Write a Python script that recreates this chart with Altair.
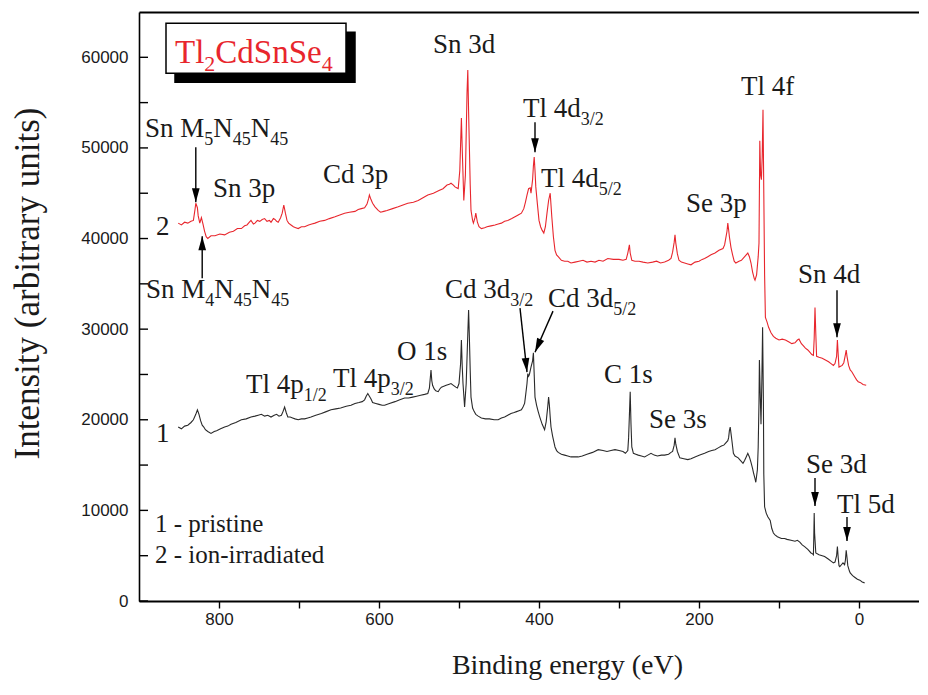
import math
import altair as alt
import pandas as pd

# ---------------- spectra (binding energy eV, intensity counts) ----------------
be_irr = [851, 847, 843, 839, 835, 832, 830, 829, 827, 826, 824, 822, 820, 818, 816, 814, 810, 805, 799, 793,
          787, 782, 777, 772, 768, 765, 762, 760, 757, 755, 752, 749, 746, 743, 740, 737, 735, 732, 730, 728,
          726, 723, 721, 719, 717, 715, 713, 710, 707, 704, 701, 697, 693, 688, 684, 680, 674, 668, 662, 655,
          649, 643, 637, 630, 626, 622, 618, 615, 613, 612, 610, 608, 605, 601, 598, 594, 590, 583, 576, 570,
          564, 557, 551, 545, 539, 532, 525, 520, 515, 512, 510, 507, 505, 503, 501, 499, 497, 496, 494, 492,
          490, 489, 488, 486, 485, 483, 482, 480, 479, 477, 475, 472, 468, 465, 460, 455, 451, 447, 443, 439,
          434, 430, 426, 422, 419, 417, 415, 413, 411, 410, 408, 407, 406, 405, 404, 402, 400, 398, 396, 394,
          392, 390, 388, 386, 385, 384, 382, 380, 378, 376, 372, 368, 364, 360, 355, 350, 345, 340, 335, 330,
          325, 320, 314, 307, 300, 295, 291, 289, 287, 286, 284, 280, 275, 270, 264, 258, 253, 248, 243, 238,
          235, 233, 231, 230, 229, 227, 225, 222, 218, 214, 210, 205, 200, 196, 193, 189, 185, 180, 175, 170,
          168, 167, 165, 164, 163, 162, 160, 158, 156, 154, 150, 147, 144, 141, 139, 137, 135, 133, 131, 130,
          128, 126, 125, 124, 123, 122, 121, 120, 119, 118, 117, 115, 113, 110, 107, 104, 100, 96, 92, 88,
          84, 80, 77, 75, 72, 70, 67, 64, 61, 59, 57, 56, 55, 54, 53, 50, 46, 42, 38, 35,
          32, 30, 28, 27, 26, 25, 23, 21, 19, 17, 16, 15, 13, 11, 9, 7, 5, 3, 1, -2,
          -5, -9]
int_irr = [41700, 41500, 41800, 41700, 41900, 42000, 43200, 43900, 43400, 42500, 41700, 42300, 41600, 40800, 40200, 40000, 40300, 40300, 40500, 40400,
           40700, 40800, 41100, 41100, 41400, 41500, 41800, 42000, 41600, 41700, 42000, 41900, 42100, 42200, 41900, 42000, 41800, 42200, 42100, 41900,
           41800, 42300, 42800, 43700, 42800, 42000, 41700, 41500, 41300, 41200, 41100, 41300, 41300, 41500, 41600, 41700, 41900, 42000, 42200, 42400,
           42600, 42800, 42900, 43000, 43200, 43300, 43400, 43800, 44400, 44800, 44300, 43900, 43500, 43100, 42900, 43000, 43100, 43300, 43500, 43700,
           43900, 44000, 44200, 44500, 44800, 45000, 45300, 45500, 45900, 46000, 46100, 45900, 45700, 45600, 45500, 47500, 53300, 50000, 44200, 47000,
           56000, 58600, 54000, 46000, 43100, 42000, 41700, 42300, 42800, 41800, 41300, 41100, 41200, 41300, 41400, 41500, 41600, 41700, 41900, 42000,
           42200, 42400, 42600, 42800, 43300, 44000, 44800, 45500, 45600, 45000, 46500, 48000, 49000, 47500, 45700, 43800, 42000, 41300, 40900, 40600,
           41300, 42800, 44200, 45000, 43700, 42400, 40200, 38700, 38200, 38000, 37600, 37500, 37500, 37300, 37400, 37500, 37600, 37400, 37500, 37400,
           37600, 37500, 37800, 37700, 37700, 37600, 37700, 38400, 39300, 38400, 37600, 37500, 37500, 37400, 37300, 37400, 37500, 37300, 37400, 37600,
           37800, 38500, 39600, 40400, 39500, 38300, 37600, 37400, 37300, 37200, 37100, 37400, 37500, 37700, 37800, 38000, 38200, 38400, 38700, 38900,
           39300, 39800, 40800, 41700, 41000, 40200, 39000, 38200, 37500, 37300, 37500, 37600, 37900, 38200, 38400, 38000, 37300, 36300, 35600, 35400,
           36000, 38000, 39500, 50800, 47000, 46500, 49000, 54200, 45000, 36000, 31300, 30800, 30200, 29600, 29200, 29000, 28800, 28900, 28800, 28600,
           28400, 28500, 28800, 28900, 28400, 28200, 27900, 27700, 27400, 27200, 27100, 29000, 32400, 29500, 27000, 26900, 26800, 26600, 26400, 26200,
           26000, 26200, 27000, 28800, 27200, 25800, 25900, 26000, 26300, 27200, 27700, 27000, 26000, 25500, 25300, 25000, 24700, 24400, 24200, 24100,
           23900, 23800]

be_pri = [851, 847, 843, 839, 835, 832, 829, 827, 825, 823, 821, 819, 817, 814, 810, 806, 803, 798, 793, 789,
          785, 779, 772, 766, 760, 755, 751, 747, 743, 739, 735, 731, 728, 725, 722, 720, 718, 716, 714, 711,
          708, 705, 701, 697, 693, 689, 685, 679, 672, 666, 660, 654, 648, 641, 635, 630, 625, 621, 618, 616,
          614, 612, 610, 608, 604, 600, 596, 593, 587, 580, 574, 568, 563, 558, 553, 548, 543, 539, 537, 535,
          534, 533, 531, 529, 526, 524, 522, 519, 516, 513, 510, 507, 504, 502, 500, 498, 497, 496, 495, 493,
          491, 489, 488, 487, 486, 485, 483, 481, 479, 476, 472, 467, 462, 456, 451, 447, 443, 439, 435, 431,
          428, 425, 422, 420, 418, 417, 415, 414, 413, 412, 410, 408, 407, 406, 405, 403, 401, 399, 396, 393,
          391, 389, 388, 387, 386, 385, 383, 381, 380, 378, 376, 372, 368, 364, 360, 355, 351, 346, 340, 333,
          326, 320, 315, 310, 305, 300, 295, 292, 289, 288, 287, 286, 285, 284, 282, 279, 276, 272, 268, 264,
          260, 256, 252, 247, 243, 238, 235, 233, 231, 230, 229, 227, 224, 219, 214, 210, 205, 199, 193, 188,
          184, 180, 176, 172, 169, 167, 164, 163, 162, 161, 160, 159, 157, 155, 151, 148, 145, 143, 141, 139,
          137, 135, 133, 132, 130, 129, 127, 126, 125, 124.5, 123.5, 122.5, 121.5, 120.5, 119.5, 119, 118, 116, 114, 111,
          109, 107, 105, 102, 97, 93, 90, 85, 80, 77, 74, 71, 68, 64, 60, 58, 57, 56.5, 56, 55.5,
          54, 50, 46, 43, 38, 35, 32, 30, 28, 27, 26, 25, 24, 22, 20, 18, 17, 16, 15, 14,
          12, 11, 8, 5, 2, -1, -4, -7]
int_pri = [19200, 19000, 19300, 19400, 19700, 20000, 20600, 21100, 20600, 19900, 19400, 19200, 18900, 18700, 18500, 18700, 18800, 19000, 19200, 19300,
           19500, 19700, 20000, 20100, 20300, 20400, 20500, 20600, 20400, 20500, 20300, 20500, 20600, 20400, 20500, 20900, 21400, 20800, 20300, 20300,
           20200, 20100, 20000, 20100, 20100, 20200, 20300, 20500, 20700, 20900, 21100, 21200, 21300, 21500, 21600, 21800, 21900, 22000, 22200, 22600,
           22900, 22600, 22300, 21900, 21800, 21700, 21600, 21600, 21800, 22000, 22200, 22400, 22400, 22500, 22600, 22700, 22800, 22900, 23500, 25500,
           24300, 23800, 23400, 23200, 23100, 23400, 23600, 23700, 23800, 23900, 24000, 23800, 23600, 23500, 24000, 26200, 28800, 26000, 24000, 21400,
           24000, 29500, 32100, 29000, 25500, 22500, 21300, 20900, 20600, 20400, 20200, 20100, 20100, 20000, 20000, 20200, 20300, 20500, 20700, 20800,
           20900, 21000, 21100, 21400, 21800, 22500, 24000, 25100, 24800, 25000, 25800, 26500, 27400, 25000, 22500, 21600, 20900, 20300, 19500, 18900,
           19800, 21500, 22500, 21600, 20300, 19200, 18200, 17400, 17000, 16600, 16400, 16200, 16100, 16000, 15900, 15900, 15900, 16000, 16200, 16400,
           16700, 16600, 16500, 16600, 16700, 16600, 16500, 16300, 16600, 18000, 20500, 23100, 19500, 17000, 16300, 16200, 16100, 16000, 15900, 16100,
           16300, 16100, 16000, 16100, 16100, 16200, 16400, 16500, 17200, 18000, 17300, 16500, 15800, 15700, 15600, 15700, 15900, 16100, 16300, 16500,
           16600, 16700, 16900, 17100, 17200, 17400, 17700, 18000, 18800, 19200, 18500, 17800, 16300, 16000, 15800, 15500, 15200, 15500, 15900, 16300,
           15900, 15300, 14600, 14200, 13500, 13100, 14500, 17000, 22000, 26600, 23000, 19500, 24000, 30200, 22000, 14000, 10400, 9700, 9300, 8900,
           8000, 7500, 7300, 7100, 6900, 6900, 6800, 6700, 6600, 6700, 6500, 6200, 6000, 5700, 5300, 5200, 5100, 7000, 9700, 7500,
           5300, 5100, 5000, 4900, 4600, 4400, 4200, 4300, 5000, 6000, 4800, 3900, 3800, 4000, 4200, 4000, 4500, 5600, 4800, 3900,
           3300, 3100, 2800, 2600, 2400, 2300, 2100, 2000]

# ---------------- peak labels: segments (text, is_subscript), left edge (eV), baseline (counts) ----------------
label_parts = [
    [("Sn 3d", False)],
    [("Sn M", False), ("5", True), ("N", False), ("45", True), ("N", False), ("45", True)],
    [("Sn 3p", False)],
    [("Cd 3p", False)],
    [("2", False)],
    [("Tl 4d", False), ("3/2", True)],
    [("Tl 4d", False), ("5/2", True)],
    [("Se 3p", False)],
    [("Tl 4f", False)],
    [("Sn M", False), ("4", True), ("N", False), ("45", True), ("N", False), ("45", True)],
    [("Tl 4p", False), ("1/2", True)],
    [("Tl 4p", False), ("3/2", True)],
    [("O 1s", False)],
    [("Cd 3d", False), ("3/2", True)],
    [("Cd 3d", False), ("5/2", True)],
    [("C 1s", False)],
    [("Se 3s", False)],
    [("Sn 4d", False)],
    [("Se 3d", False)],
    [("Tl 5d", False)],
    [("1", False)],
]
label_x = [532.5, 892.5, 807.5, 670, 878.75, 420, 397.5, 216.25, 147.5, 891.25,
           766.25, 657.5, 577.5, 517.5, 388.75, 318.75, 262.5, 76.25, 66.25, 27.5, 878.75]
label_y = [60440, 51180, 44560, 46100, 40370, 53385, 45660, 42900, 55810, 33420,
           22940, 23600, 26580, 33420, 32430, 24045, 19080, 35075, 14120, 9700, 17540]

# arrows: tail (x1, y1) -> tip (x2, y2)
arrow_x1 = [829, 821, 405, 423.75, 382.5, 27.5, 55, 15]
arrow_y1 = [50080, 35630, 52830, 32320, 31990, 34300, 13570, 9270]
arrow_x2 = [829, 821, 405, 415, 405, 27.5, 55, 15]
arrow_y2 = [44010, 40260, 49520, 25260, 27460, 29120, 10480, 6620]

legend_text = ["1 - pristine", "2 - ion-irradiated"]
legend_x = [880, 880]
legend_y = [7610, 4190]

# inner y-axis tick values
ytick_values = [0, 5000, 10000, 15000, 20000, 25000, 30000, 35000, 40000, 45000, 50000, 55000, 60000]

title_parts = [("Tl", False), ("2", True), ("CdSnSe", False), ("4", True)]
title_x, title_y = 855, 59340
box_x1, box_x2, box_y1, box_y2 = 866.25, 641.25, 63750, 58240
shadow_x1, shadow_x2, shadow_y1, shadow_y2 = 855, 630, 62760, 57250

# ---------------- layout ----------------
W, H = 780, 589
X_DOM = [900, -75]
Y_DOM = [0, 65000]
PX_EV = W / (X_DOM[0] - X_DOM[1])
PX_CNT = H / (Y_DOM[1] - Y_DOM[0])
TICK_LEN = 9
SERIF = "Liberation Serif, Times New Roman, serif"
SANS = "Liberation Sans, Arial, sans-serif"
RED = "#e8262d"
INK = "#1a1a1a"

TIMES_W = {" ": 250, "S": 556, "n": 500, "M": 889, "N": 722, "T": 611, "l": 278, "d": 500,
           "p": 500, "C": 667, "e": 444, "/": 278, "s": 389, "O": 722, "f": 333}


def text_w(t, fs):
    return sum(TIMES_W.get(c, 500) for c in t) / 1000.0 * fs


def seg_rows(parts, x0, y0, size, sub_size, sub_drop, color):
    rows, off = [], 0.0
    for t, sub in parts:
        fs = sub_size if sub else size
        rows.append({"text": t, "x": x0 - off / PX_EV,
                     "y": y0 - (sub_drop / PX_CNT if sub else 0.0), "size": fs, "color": color})
        off += text_w(t, fs)
    return rows


rows = []
for parts, lx, ly in zip(label_parts, label_x, label_y):
    rows += seg_rows(parts, lx, ly, 27, 18, 8, INK)
rows += seg_rows(title_parts, title_x, title_y, 33, 22, 8, RED)
for t, lx, ly in zip(legend_text, legend_x, legend_y):
    rows.append({"text": t, "x": lx, "y": ly, "size": 25, "color": INK})
text_df = pd.DataFrame(rows)

spec_df = pd.concat([
    pd.DataFrame({"be": be_pri, "counts": int_pri, "s": "1"}),
    pd.DataFrame({"be": be_irr, "counts": int_irr, "s": "2"}),
])

# segments drawn as rules: arrows, inner y ticks
seg_x1 = list(arrow_x1) + [X_DOM[0]] * len(ytick_values)
seg_x2 = list(arrow_x2) + [X_DOM[0] - TICK_LEN / PX_EV] * len(ytick_values)
seg_y1 = list(arrow_y1) + list(ytick_values)
seg_y2 = list(arrow_y2) + list(ytick_values)
seg_df = pd.DataFrame({"x1": seg_x1, "y1": seg_y1, "x2": seg_x2, "y2": seg_y2})

arr_df = pd.DataFrame({"x1": arrow_x1, "y1": arrow_y1, "x2": arrow_x2, "y2": arrow_y2})
dxp = -(arr_df.x2 - arr_df.x1) * PX_EV
dyp = -(arr_df.y2 - arr_df.y1) * PX_CNT
arr_df["angle"] = [(math.degrees(math.atan2(-a, b)) + 360) % 360 for a, b in zip(dxp, dyp)]

# two rectangles: shadow (black, drawn first) and the white framed box
rect_df = pd.DataFrame({
    "x1": [shadow_x1, box_x1], "x2": [shadow_x2, box_x2],
    "y1": [shadow_y1, box_y1], "y2": [shadow_y2, box_y2],
    "kind": ["shadow", "box"],
})
frame_df = pd.DataFrame({"x": [X_DOM[0]], "y": [Y_DOM[0]]})

xs = alt.Scale(domain=X_DOM, nice=False, zero=False)
ys = alt.Scale(domain=Y_DOM, nice=False, zero=False)

frame = alt.Chart(frame_df).mark_point(opacity=0).encode(
    x=alt.X("x:Q", scale=xs, axis=alt.Axis(orient="top", labels=False, ticks=False, domain=True,
                                           domainColor="black", domainWidth=2, title=None, grid=False)),
    y=alt.Y("y:Q", scale=ys, axis=None),
)

rects = alt.Chart(rect_df).mark_rect(strokeWidth=1.5, stroke="black").encode(
    x=alt.X("x1:Q", scale=xs, axis=None), x2="x2:Q",
    y=alt.Y("y1:Q", scale=ys, axis=None), y2="y2:Q",
    fill=alt.Fill("kind:N", scale=alt.Scale(domain=["shadow", "box"], range=["black", "white"]),
                  legend=None),
)

lines = alt.Chart(spec_df).mark_line(strokeWidth=1.1).encode(
    x=alt.X("be:Q", scale=xs, axis=alt.Axis(
        values=list(range(800, -1, -100)), labelExpr="datum.value % 200 == 0 ? datum.label : ''",
        tickSize=7, tickColor="black", tickWidth=1.4, domainColor="black", domainWidth=2,
        labelFont=SANS, labelFontSize=17, labelColor=INK, labelPadding=3, grid=False,
        title="Binding energy (eV)", titleFont=SERIF, titleFontSize=28, titleFontWeight="normal",
        titleColor=INK, titleX=428, titleY=72, titleAlign="center", titleBaseline="alphabetic")),
    y=alt.Y("counts:Q", scale=ys, axis=alt.Axis(
        values=list(range(0, 60001, 10000)), format="d", ticks=False, grid=False,
        domainColor="black", domainWidth=1.6, labelFont=SANS, labelFontSize=17, labelColor=INK,
        labelPadding=11,
        title="Intensity (arbitrary units)", titleFont=SERIF, titleFontSize=35, titleFontWeight="normal",
        titleColor=INK, titleX=-112, titleY=271, titleAngle=270, titleAlign="center",
        titleBaseline="middle")),
    color=alt.Color("s:N", scale=alt.Scale(domain=["1", "2"], range=["#2a2a2a", RED]), legend=None),
    detail="s:N",
)

segs = alt.Chart(seg_df).mark_rule(color="black", strokeWidth=1.4).encode(
    x=alt.X("x1:Q", scale=xs, axis=None), x2="x2:Q",
    y=alt.Y("y1:Q", scale=ys, axis=None), y2="y2:Q",
)
heads = alt.Chart(arr_df).mark_point(shape="M-0.55,-2L0.55,-2L0,0Z", filled=True, opacity=1,
                                     color="black", strokeWidth=0, size=196).encode(
    x=alt.X("x2:Q", scale=xs, axis=None),
    y=alt.Y("y2:Q", scale=ys, axis=None),
    angle=alt.Angle("angle:Q", scale=None),
)

texts = alt.Chart(text_df).mark_text(align="left", baseline="alphabetic", font=SERIF).encode(
    x=alt.X("x:Q", scale=xs, axis=None),
    y=alt.Y("y:Q", scale=ys, axis=None),
    text="text:N",
    size=alt.Size("size:Q", scale=None),
    color=alt.Color("color:N", scale=None),
)

chart = alt.layer(lines, frame, rects, segs, heads, texts).resolve_axis(
    x="independent", y="independent"
).resolve_scale(fill="independent", color="independent").properties(
    width=W, height=H,
    padding={"left": 131, "top": 4, "right": 0, "bottom": 80},
    autosize=alt.AutoSizeParams(type="none"),
    background="white",
).configure_view(stroke=None)

chart.save("out.html", embed_options={"renderer": "svg", "actions": False})
